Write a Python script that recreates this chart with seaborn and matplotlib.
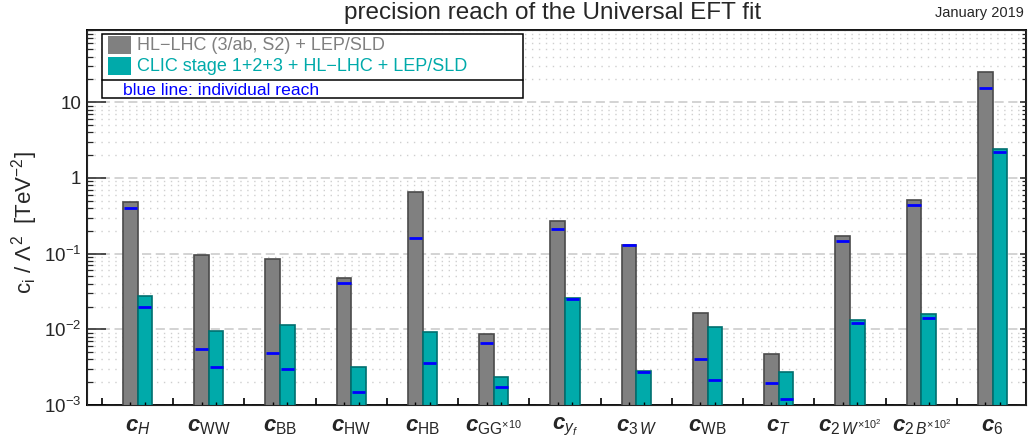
import numpy as np
import pandas as pd
import matplotlib
matplotlib.use("Agg")
import matplotlib.pyplot as plt
import seaborn as sns
from matplotlib.patches import Rectangle
from matplotlib.ticker import FixedLocator, FixedFormatter, LogLocator, NullFormatter

# coefficients of the Universal EFT fit
coef_labels = [r"$\mathbfit{c}_{H}$", r"$\mathbfit{c}_{\mathrm{WW}}$", r"$\mathbfit{c}_{\mathrm{BB}}$",
               r"$\mathbfit{c}_{\mathrm{HW}}$", r"$\mathbfit{c}_{\mathrm{HB}}$",
               r"$\mathbfit{c}_{\mathrm{GG}^{\times 10}}$", r"$\mathbfit{c}_{y_f}$",
               r"$\mathbfit{c}_{\mathrm{3}\,W}$", r"$\mathbfit{c}_{\mathrm{WB}}$", r"$\mathbfit{c}_{T}$",
               r"$\mathbfit{c}_{\mathrm{2}\,W^{\times 10^{2}}}$", r"$\mathbfit{c}_{\mathrm{2}\,B^{\times 10^{2}}}$",
               r"$\mathbfit{c}_{6}$"]
scenarios = ["HL\u2212LHC (3/ab, S2) + LEP/SLD", "CLIC stage 1+2+3 + HL\u2212LHC + LEP/SLD"]

# global fit reach (bars) and individual reach (blue lines)
hllhc_global = [0.485, 0.0948, 0.0841, 0.0481, 0.658, 0.00875, 0.267, 0.130, 0.0163, 0.00467, 0.169, 0.506, 24.8]
hllhc_indiv = [0.396, 0.00545, 0.00486, 0.0413, 0.161, 0.00665, 0.213, 0.128, 0.00409, 0.00193, 0.147, 0.438, 15.3]
clic_global = [0.0275, 0.0094, 0.0115, 0.00318, 0.00912, 0.00232, 0.0262, 0.00279, 0.0106, 0.0027, 0.0132, 0.0158, 2.41]
clic_indiv = [0.0197, 0.00321, 0.00302, 0.00147, 0.00359, 0.00175, 0.0251, 0.00274, 0.00214, 0.00121, 0.0120, 0.0142, 2.22]

ytick_vals = [1e-3, 1e-2, 1e-1, 1, 10]
ytick_text = [r"$10^{-3}$", r"$10^{-2}$", r"$10^{-1}$", "1", "10"]

gray = "#808080"
teal = "#00aaaa"

sns.set_style("white")
plt.rcParams["font.family"] = ["Liberation Sans", "DejaVu Sans"]
plt.rcParams["mathtext.fontset"] = "custom"
plt.rcParams["mathtext.rm"] = "Liberation Sans"
plt.rcParams["mathtext.sf"] = "Liberation Sans"
plt.rcParams["mathtext.it"] = "Liberation Sans:italic"
plt.rcParams["mathtext.bf"] = "Liberation Sans:bold"
plt.rcParams["mathtext.bfit"] = "Liberation Sans:italic:bold"

df = pd.DataFrame({
    "coef": list(range(len(coef_labels))) * 2,
    "scenario": [scenarios[0]] * len(coef_labels) + [scenarios[1]] * len(coef_labels),
    "value": hllhc_global + clic_global,
})

fig = plt.figure(figsize=(10.35, 4.43), dpi=100)
ax = fig.add_axes([87 / 1035, 1 - 405 / 443, 939 / 1035, 375 / 443])
ax.set_yscale("log")

sns.barplot(data=df, x="coef", y="value", hue="scenario", hue_order=scenarios,
            palette=[gray, teal], width=0.41, gap=0, saturation=1, legend=False, ax=ax,
            linewidth=1.2, zorder=3)
for cont, ec in zip(ax.containers, ["#4a4a4a", "#006f6f"]):
    for bar in cont:
        bar.set_edgecolor(ec)

# individual reach: blue lines inside each bar
n = len(coef_labels)
pos = np.arange(n)
half = 0.41 / 4
ax.hlines(hllhc_indiv, pos - half - 0.092, pos - half + 0.092, colors="#0000ff", lw=2, zorder=4)
ax.hlines(clic_indiv, pos + half - 0.092, pos + half + 0.092, colors="#0000ff", lw=2, zorder=4)

ax.set_xlim(-0.71, 12.47)
ax.set_ylim(1e-3, 90)

# grid
ax.set_axisbelow(True)
ax.yaxis.set_major_locator(FixedLocator(ytick_vals))
ax.yaxis.set_major_formatter(FixedFormatter(ytick_text))
ax.yaxis.set_minor_locator(LogLocator(base=10, subs=np.arange(2, 10), numticks=20))
ax.yaxis.set_minor_formatter(NullFormatter())
ax.grid(axis="y", which="major", color="#c8c8c8", lw=1.1, dashes=(6, 3))
ax.grid(axis="y", which="minor", color="#cfcfcf", lw=1.0, dashes=(1, 4))
ax.grid(axis="x", visible=False)

ax.tick_params(axis="y", which="major", direction="in", length=13.5, width=1.1, labelsize=13.5, pad=4)
ax.tick_params(axis="y", which="minor", direction="in", length=4.3, width=0.9)
ax.set_xticks(pos)
ax.set_xticklabels(coef_labels, fontsize=16)
ax.tick_params(axis="x", length=0, pad=8)
ax.set_xlabel("")
ax.set_ylabel("")
fig.text(25 / 1035, 1 - 223 / 443, r"c$_{\mathrm{i}}$ / $\Lambda^{2}$  [TeV$^{-2}$]", fontsize=16,
         rotation=90, ha="center", va="center")

# right-hand mirrored y ticks
ax2 = ax.twinx()
ax2.set_yscale("log")
ax2.set_ylim(ax.get_ylim())
ax2.yaxis.set_major_locator(FixedLocator(ytick_vals))
ax2.yaxis.set_minor_locator(LogLocator(base=10, subs=np.arange(2, 10), numticks=20))
ax2.tick_params(axis="y", which="both", direction="in", labelright=False)
ax2.tick_params(axis="y", which="major", length=4.5, width=1.1)
ax2.tick_params(axis="y", which="minor", length=3, width=0.9)

# bottom tick marks at bar centres and between groups
xt = ax.get_xaxis_transform()
ax.vlines(np.concatenate([pos - half, pos + half]), 0, 0.009, transform=xt, colors="black", lw=1, zorder=5)
mids = np.arange(-1, n) + 0.5
mids = mids[(mids > -0.71) & (mids < 12.47)]
ax.vlines(mids, 0, 0.02, transform=xt, colors="black", lw=1.2, zorder=5)

for sp in ax.spines.values():
    sp.set_linewidth(1.3)
    sp.set_color("black")

# legend box
x0, x1 = (102 - 87) / 939, (523 - 87) / 939
ytop, ybot, ymid = (405 - 34) / 375, (405 - 98) / 375, (405 - 80) / 375
ax.add_patch(Rectangle((x0, ybot), x1 - x0, ytop - ybot, transform=ax.transAxes,
                       facecolor="white", edgecolor="black", lw=1.1, zorder=6))
ax.plot([x0, x1], [ymid, ymid], transform=ax.transAxes, color="black", lw=1.1, zorder=7)
sq_w, sq_h = 23 / 939, 18 / 375
for i, (lab, c) in enumerate(zip(scenarios, [gray, teal])):
    yc = (405 - (45 + 21 * i)) / 375
    ax.add_patch(Rectangle(((108 - 87) / 939, yc - sq_h / 2), sq_w, sq_h, transform=ax.transAxes,
                           facecolor=c, edgecolor="none", zorder=7))
    ax.text((137 - 87) / 939, yc, lab, transform=ax.transAxes, color=c, fontsize=13,
            va="center", ha="left", zorder=8)
ax.text((123 - 87) / 939, (405 - 90) / 375, "blue line: individual reach", transform=ax.transAxes,
        color="#0000ff", fontsize=12.6, va="center", ha="left", zorder=8)

fig.text(553 / 1035, 1 - 19 / 443, "precision reach of the Universal EFT fit", fontsize=17.5,
         ha="center", va="baseline")
fig.text(1024 / 1035, 1 - 17 / 443, "January 2019", fontsize=10.5, ha="right", va="baseline")

fig.savefig("out.png", dpi=100)
